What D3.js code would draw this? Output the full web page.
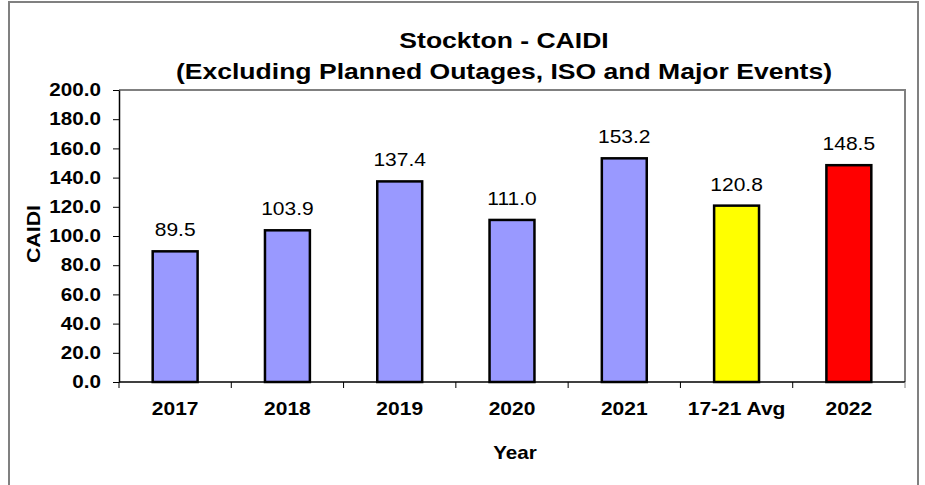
<!DOCTYPE html>
<html>
<head>
<meta charset="utf-8">
<script src="https://cdn.jsdelivr.net/npm/d3@7/dist/d3.min.js"></script>
<style>
  html, body { margin: 0; padding: 0; background: #fff; }
  svg { display: block; font-family: Arial, "Liberation Sans", sans-serif; }
</style>
</head>
<body>
<svg id="chart" width="925" height="485"></svg>
<script>
// Stockton CAIDI by year, excluding planned outages, ISO and major events
const categories = ["2017", "2018", "2019", "2020", "2021", "17-21 Avg", "2022"];
const values = [89.5, 103.9, 137.4, 111.0, 153.2, 120.8, 148.5];
const barColors = ["#9999ff", "#9999ff", "#9999ff", "#9999ff", "#9999ff", "#ffff00", "#ff0000"];
const yTicks = [0, 20, 40, 60, 80, 100, 120, 140, 160, 180, 200];
const titleLines = ["Stockton - CAIDI", "(Excluding Planned Outages, ISO and Major Events)"];
const yTitle = "CAIDI";
const xTitle = "Year";

const svg = d3.select("#chart");
const SX = 1.18; // horizontal stretch applied to all lettering

const plot = { left: 119, right: 905, top: 90, bottom: 382 };

const x = d3.scaleBand()
  .domain(categories)
  .range([plot.left, plot.right])
  .paddingInner(0.6)
  .paddingOuter(0.3);

const y = d3.scaleLinear()
  .domain([0, 200])
  .range([plot.bottom, plot.top]);

function label(g, tx, ty, text, opts) {
  const o = Object.assign({ size: 17.5, weight: "bold", anchor: "middle", rotate: 0, sx: SX }, opts || {});
  return g.append("text")
    .attr("transform", `translate(${tx},${ty}) rotate(${o.rotate}) scale(${o.sx},1)`)
    .attr("text-anchor", o.anchor)
    .attr("font-size", o.size)
    .attr("font-weight", o.weight)
    .attr("fill", "#000")
    .text(text);
}

// outer frame
svg.append("rect")
  .attr("x", 9).attr("y", 2)
  .attr("width", 909).attr("height", 495)
  .attr("fill", "none")
  .attr("stroke", "#808080")
  .attr("stroke-width", 2);

// plot area border (top and right)
svg.append("path")
  .attr("d", `M${plot.left},${plot.top}H${plot.right}V${plot.bottom}`)
  .attr("fill", "none")
  .attr("stroke", "#808080")
  .attr("stroke-width", 2);

// title
label(svg, 504, 48, titleLines[0], { size: 22.5 });
label(svg, 504, 79, titleLines[1], { size: 22.5 });

// bars
svg.append("g").selectAll("rect")
  .data(values)
  .join("rect")
  .attr("x", (d, i) => x(categories[i]))
  .attr("y", d => y(d))
  .attr("width", x.bandwidth())
  .attr("height", d => y(0) - y(d))
  .attr("fill", (d, i) => barColors[i])
  .attr("stroke", "#000")
  .attr("stroke-width", 2.5);

// value labels
const vl = svg.append("g");
values.forEach((v, i) => {
  label(vl, x(categories[i]) + x.bandwidth() / 2, y(v) - 15, d3.format(".1f")(v), { weight: "normal", size: 17.8 });
});

// y axis
const yAxis = svg.append("g")
  .attr("transform", `translate(${plot.left},0)`)
  .call(d3.axisLeft(y).tickValues(yTicks).tickFormat(d3.format(".1f")).tickSize(6).tickSizeOuter(0));
yAxis.select(".domain").attr("stroke", "#000").attr("stroke-width", 1.5);
yAxis.selectAll(".tick line").attr("stroke", "#000").attr("stroke-width", 1);
yAxis.selectAll(".tick text")
  .attr("x", null)
  .attr("transform", `translate(-18,0) scale(${SX},1)`)
  .attr("font-size", 17.5)
  .attr("font-weight", "bold")
  .attr("font-family", "Arial, 'Liberation Sans', sans-serif")
  .attr("fill", "#000");

// x axis line
svg.append("line")
  .attr("x1", plot.left).attr("x2", plot.right)
  .attr("y1", plot.bottom).attr("y2", plot.bottom)
  .attr("stroke", "#000").attr("stroke-width", 1.5);

// x ticks on category boundaries
const step = x.step();
const bounds = categories.map(c => x(c) - step * x.paddingInner() / 2).concat([plot.right]);
svg.append("g").selectAll("line")
  .data(bounds)
  .join("line")
  .attr("x1", d => d).attr("x2", d => d)
  .attr("y1", plot.bottom).attr("y2", plot.bottom + 6)
  .attr("stroke", (d, i) => i === bounds.length - 1 ? "#808080" : "#000")
  .attr("stroke-width", 1);

// x tick labels
const xl = svg.append("g");
categories.forEach(c => label(xl, x(c) + x.bandwidth() / 2, 415, c, { size: 17.8 }));

// axis titles
label(svg, 515, 459, xTitle);
label(svg, 40, 234, yTitle, { rotate: -90, sx: 1.22 });
</script>
</body>
</html>
